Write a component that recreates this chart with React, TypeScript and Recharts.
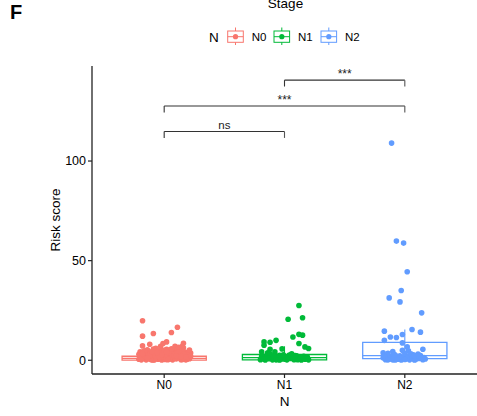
import React from "react";
import {
  ComposedChart,
  XAxis,
  YAxis,
  Scatter,
  ReferenceArea,
  ReferenceLine,
} from "recharts";

const categories = ["N0", "N1", "N2"];
const colors = ["#F8766D", "#00BA38", "#619CFF"];
const yTicks = [0, 50, 100];

// jitter offsets (x, in category units) and risk scores for each group
const n0Jitter = [
  -0.18, 0.11, -0.09, 0.06, -0.18, 0.02, 0.16, -0.18, -0.12, -0.03, -0.01, 0.09, 0.15,
  -0.21, -0.19, -0.17, -0.16, -0.15, -0.14, -0.13, -0.12, -0.11, -0.1, -0.09, -0.08, -0.07,
  -0.06, -0.05, -0.04, -0.03, -0.02, -0.01, 0.0, 0.01, 0.02, 0.03, 0.04, 0.05, 0.06, 0.07,
  0.08, 0.09, 0.1, 0.11, 0.12, 0.13, 0.14, 0.15, 0.16, 0.17, 0.18, 0.19, 0.2, 0.21, 0.22,
  -0.2, -0.18, -0.14, -0.1, -0.06, -0.02, 0.02, 0.06, 0.1, 0.14, 0.18, 0.21, -0.15, -0.05,
  0.05, 0.15, -0.12, 0.12, -0.08, 0.08, 0.0, -0.03,
  -0.21, -0.19, -0.17, -0.15, -0.13, -0.11, -0.09, -0.07, -0.05, -0.03, -0.01, 0.01, 0.03,
  0.05, 0.07, 0.09, 0.11, 0.13, 0.15, 0.17, 0.19, 0.21, -0.2, -0.16, -0.12, -0.08, -0.04,
  0.0, 0.04, 0.08, 0.12, 0.16, 0.2, -0.18, -0.1, -0.02, 0.06, 0.14, 0.22, -0.14, -0.06,
  0.02, 0.1, 0.18,
];
const n0Values = [
  19.8, 16.6, 13.4, 13.9, 12.1, 9.2, 8.5, 7.2, 8.0, 7.0, 8.4, 7.0, 7.0,
  0.5, 2.1, 1.0, 3.5, 0.2, 5.2, 1.8, 0.6, 4.1, 2.7, 0.3, 1.4, 6.0,
  3.0, 0.8, 2.2, 4.6, 0.1, 1.6, 3.3, 0.4, 5.5, 2.0, 0.9, 3.8, 1.2, 0.2,
  4.4, 2.5, 0.7, 5.8, 1.5, 3.1, 0.3, 2.8, 6.2, 1.1, 4.0, 0.5, 2.4, 1.0, 3.6,
  4.3, 0.9, 2.6, 0.1, 5.0, 2.9, 1.3, 4.8, 3.2, 1.9, 0.2, 5.1, 1.5, 0.5,
  0.6, 0.4, 3.9, 6.5, 0.2, 1.7, 0.6, 1.1,
  3.0, 0.2, 4.5, 1.2, 2.9, 0.4, 5.6, 2.0, 3.7, 1.0, 4.9, 2.6, 0.3,
  5.3, 3.4, 1.5, 4.2, 2.3, 4.6, 3.0, 2.7, 0.8, 2.5, 4.8, 2.1, 3.5, 1.7,
  5.0, 3.9, 2.4, 4.0, 3.3, 1.4, 3.2, 4.4, 2.8, 5.7, 1.9, 2.0, 1.1, 3.8,
  4.1, 2.2, 1.6,
];
const n1Jitter = [
  0.12, 0.03, 0.15, 0.07, 0.12, 0.15, 0.12, 0.17, 0.2, -0.07, -0.12, -0.17, -0.17, -0.12,
  -0.02, -0.19, -0.14, -0.08,
  -0.2, -0.18, -0.16, -0.15, -0.13, -0.11, -0.1, -0.08, -0.06, -0.05, -0.03, -0.01, 0.0,
  0.02, 0.04, 0.05, 0.07, 0.08, 0.1, 0.11, 0.13, 0.14, 0.16, 0.17, 0.19, 0.2, -0.12, 0.06,
  0.12, -0.04,
  -0.19, -0.14, -0.09, -0.04, 0.01, 0.06, 0.11, 0.16, -0.17, -0.07, 0.03, 0.09, 0.18, -0.01,
];
const n1Values = [
  27.5, 20.6, 21.3, 11.7, 13.0, 12.6, 8.4, 6.7, 5.9, 10.0, 9.0, 9.2, 7.5, 5.5,
  5.7, 4.2, 3.7, 4.2,
  0.3, 1.5, 0.1, 2.4, 0.8, 1.9, 0.2, 2.8, 1.1, 0.4, 2.1, 0.6, 1.4,
  0.2, 2.6, 0.9, 1.7, 0.3, 2.2, 0.7, 1.3, 0.1, 2.0, 0.5, 1.6, 0.2, 3.1, 3.3,
  0.9, 0.1,
  2.0, 1.0, 1.8, 2.5, 0.5, 1.2, 0.3, 1.0, 0.6, 0.2, 1.5, 2.3, 0.8, 2.7,
];
const n2Jitter = [
  -0.11, -0.07, -0.01, 0.02, -0.03, -0.13, -0.04, 0.14, -0.17, -0.12, -0.07, -0.02, 0.06,
  0.13, -0.17, -0.02, 0.02, 0.03, 0.15, -0.1, -0.18,
  -0.18, -0.16, -0.15, -0.13, -0.12, -0.1, -0.09, -0.07, -0.06, -0.04, -0.03, -0.01, 0.0,
  0.01, 0.03, 0.04, 0.06, 0.07, 0.09, 0.1, 0.12, 0.13, 0.15, 0.16, 0.17, -0.14, 0.05, -0.02,
  0.08, -0.08,
  -0.17, -0.11, -0.05, 0.02, 0.08, 0.14, -0.14, -0.08, 0.0, 0.11,
];
const n2Values = [
  109, 59.8, 58.8, 44.4, 35.0, 31.3, 29.3, 23.8, 14.6, 11.7, 11.4, 12.9, 15.4,
  14.1, 10.0, 8.7, 6.7, 4.7, 5.5, 4.4, 3.7,
  1.2, 0.3, 2.5, 0.8, 1.9, 0.2, 3.0, 1.4, 0.5, 2.2, 0.1, 1.6, 3.4,
  0.7, 2.0, 0.2, 1.1, 2.8, 0.4, 1.7, 0.9, 2.4, 0.3, 1.3, 0.6, 3.5, 3.2, 5.0,
  0.1, 0.1,
  2.0, 0.6, 1.5, 0.9, 2.3, 1.0, 0.2, 2.6, 0.4, 3.1,
];

// box statistics: [lower whisker, Q1, median, Q3, upper whisker]
const n0Box = [0, 0.1, 0.9, 2.0, 5.0];
const n1Box = [0, 0.2, 1.3, 2.9, 7.0];
const n2Box = [0, 0.8, 2.3, 9.0, 15.4];

// significance comparisons: [group a, group b, bracket y, label]
const compA = [1, 1, 2];
const compB = [2, 3, 3];
const compY = [114.8, 127.6, 140.6];
const compLabels = ["ns", "***", "***"];

const jitters = [n0Jitter, n1Jitter, n2Jitter];
const values = [n0Values, n1Values, n2Values];
const boxes = [n0Box, n1Box, n2Box];

const FONT = "'Liberation Sans', Arial, Helvetica, sans-serif";
const HALF = 0.35;
const TICK_DROP = 3.2;

const groupData = categories.map((_, g) =>
  values[g].map((v, i) => ({ x: g + 1 + jitters[g][i], y: v }))
);

const labelData = compLabels.map((l, i) => ({
  x: (compA[i] + compB[i]) / 2,
  y: compY[i] + (l === "ns" ? 1.3 : 1.2),
  label: l,
}));

const LegendKey = ({ x, color, label }: { x: number; color: string; label: string }) => (
  <g>
    <line x1={x + 7.8} x2={x + 7.8} y1={27.5} y2={45} stroke={color} strokeWidth={1} />
    <rect x={x} y={31} width={15.6} height={11.3} fill="#fff" stroke={color} strokeWidth={1} />
    <line x1={x} x2={x + 15.6} y1={36.7} y2={36.7} stroke={color} strokeWidth={1} />
    <circle cx={x + 7.8} cy={36.7} r={2.6} fill={color} />
    <text x={x + 24} y={40.8} fontSize={11.5} fontFamily={FONT} fill="#000">
      {label}
    </text>
  </g>
);

export default function App() {
  return (
    <div style={{ position: "absolute", left: 0, top: 0, width: 477, height: 416, background: "#fff" }}>
      <ComposedChart
        width={477}
        height={416}
        margin={{ top: 66, right: 0, bottom: 0, left: 0 }}
      >
        <XAxis
          type="number"
          dataKey="x"
          domain={[0.4, 3.6]}
          ticks={[1, 2, 3]}
          tickFormatter={(v: number) => categories[Math.round(v) - 1]}
          allowDataOverflow
          height={42}
          axisLine={{ stroke: "#222", strokeWidth: 1.3 }}
          tickLine={{ stroke: "#222", strokeWidth: 1.2 }}
          tickSize={4}
          tickMargin={2}
          tick={{ fill: "#000", fontSize: 12, fontFamily: FONT }}
          label={{ value: "N", position: "insideBottom", offset: 10, fill: "#000", fontSize: 13.5, fontFamily: FONT }}
        />
        <YAxis
          type="number"
          dataKey="y"
          domain={[-6.9, 147.7]}
          ticks={yTicks}
          allowDataOverflow
          width={92}
          axisLine={{ stroke: "#222", strokeWidth: 1.3 }}
          tickLine={{ stroke: "#222", strokeWidth: 1.2 }}
          tickSize={4}
          tickMargin={2}
          tick={{ fill: "#000", fontSize: 12.5, fontFamily: FONT }}
          label={{ value: "Risk score", angle: -90, position: "insideLeft", offset: 55, fill: "#000", fontSize: 13.5, fontFamily: FONT, style: { textAnchor: "middle" } }}
        />
        {boxes.map((b, g) => (
          <ReferenceLine
            key={`wl${g}`}
            segment={[{ x: g + 1, y: b[0] }, { x: g + 1, y: b[4] }]}
            stroke={colors[g]}
            strokeWidth={1.1}
            ifOverflow="visible"
          />
        ))}
        {boxes.map((b, g) => (
          <ReferenceArea
            key={`box${g}`}
            x1={g + 1 - HALF}
            x2={g + 1 + HALF}
            y1={b[1]}
            y2={b[3]}
            fill="#fff"
            fillOpacity={1}
            stroke={colors[g]}
            strokeWidth={1.3}
            ifOverflow="visible"
          />
        ))}
        {boxes.map((b, g) => (
          <ReferenceLine
            key={`med${g}`}
            segment={[{ x: g + 1 - HALF, y: b[2] }, { x: g + 1 + HALF, y: b[2] }]}
            stroke={colors[g]}
            strokeWidth={1.3}
            ifOverflow="visible"
          />
        ))}
        {categories.map((c, g) => (
          <Scatter
            key={c}
            data={groupData[g]}
            isAnimationActive={false}
            shape={(p: any) => <circle cx={p.cx} cy={p.cy} r={2.8} fill={colors[g]} />}
          />
        ))}
        {compLabels.map((_, i) => (
          <ReferenceLine
            key={`br${i}`}
            segment={[{ x: compA[i], y: compY[i] }, { x: compB[i], y: compY[i] }]}
            stroke="#333"
            strokeWidth={1.1}
            ifOverflow="visible"
          />
        ))}
        {compLabels.map((_, i) => (
          <ReferenceLine
            key={`bl${i}`}
            segment={[{ x: compA[i], y: compY[i] }, { x: compA[i], y: compY[i] - TICK_DROP }]}
            stroke="#333"
            strokeWidth={1.1}
            ifOverflow="visible"
          />
        ))}
        {compLabels.map((_, i) => (
          <ReferenceLine
            key={`brr${i}`}
            segment={[{ x: compB[i], y: compY[i] }, { x: compB[i], y: compY[i] - TICK_DROP }]}
            stroke="#555"
            strokeWidth={1.1}
            ifOverflow="visible"
          />
        ))}
        <Scatter
          data={labelData}
          isAnimationActive={false}
          shape={(p: any) => (
            <text
              x={p.cx}
              y={p.cy}
              textAnchor="middle"
              fontSize={p.payload.label === "ns" ? 11.5 : 12}
              fontFamily={FONT}
              fill="#222"
            >
              {p.payload.label}
            </text>
          )}
        />
      </ComposedChart>
      <svg
        width={477}
        height={60}
        style={{ position: "absolute", left: 0, top: 0, pointerEvents: "none" }}
      >
        <text x={10} y={19} fontSize={20} fontWeight="bold" fontFamily={FONT} fill="#000">
          F
        </text>
        <text x={285.5} y={8} fontSize={13.5} textAnchor="middle" fontFamily={FONT} fill="#000">
          Stage
        </text>
        <text x={209} y={41.7} fontSize={13.5} fontFamily={FONT} fill="#000">
          N
        </text>
        <LegendKey x={227.7} color={colors[0]} label={categories[0]} />
        <LegendKey x={274} color={colors[1]} label={categories[1]} />
        <LegendKey x={321} color={colors[2]} label={categories[2]} />
      </svg>
    </div>
  );
}
